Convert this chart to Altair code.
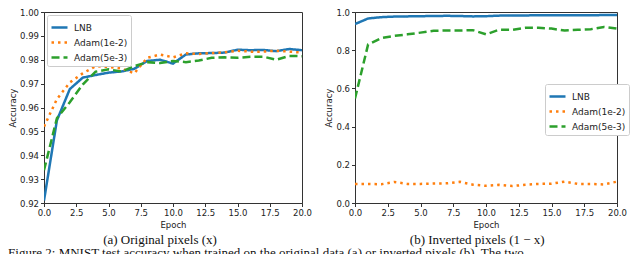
import altair as alt
import pandas as pd

epochs = list(range(21))
series = ["LNB", "Adam(1e-2)", "Adam(5e-3)"]
colors = ["#1f77b4", "#ff7f0e", "#2ca02c"]
dashes = [[1, 0], [2.5, 4], [8, 4]]

# (a) original pixels
orig_lnb = [0.921, 0.9546, 0.9677, 0.9725, 0.9736, 0.9746, 0.9751, 0.9762, 0.9795, 0.9800,
            0.9784, 0.9822, 0.9827, 0.9828, 0.9830, 0.9842, 0.9840, 0.9841, 0.9836, 0.9845, 0.9840]
orig_adam1 = [0.952, 0.9635, 0.9705, 0.9743, 0.9773, 0.9770, 0.9764, 0.9743, 0.9808, 0.9822,
              0.9810, 0.9827, 0.9824, 0.9828, 0.9831, 0.9838, 0.9834, 0.9834, 0.9838, 0.9834, 0.9830]
orig_adam5 = [0.9337, 0.9555, 0.9622, 0.9696, 0.9750, 0.9760, 0.9750, 0.9773, 0.9790, 0.9786,
              0.9795, 0.9790, 0.9797, 0.9808, 0.9810, 0.9808, 0.9813, 0.9813, 0.9800, 0.9816, 0.9815]

# (b) inverted pixels
inv_lnb = [0.937, 0.966, 0.973, 0.976, 0.977, 0.978, 0.979, 0.980, 0.979, 0.977,
           0.978, 0.981, 0.982, 0.982, 0.983, 0.983, 0.983, 0.983, 0.983, 0.984, 0.984]
inv_adam1 = [0.100, 0.100, 0.098, 0.110, 0.100, 0.100, 0.102, 0.103, 0.111, 0.096,
             0.090, 0.095, 0.089, 0.095, 0.100, 0.101, 0.112, 0.100, 0.100, 0.097, 0.112]
inv_adam5 = [0.547, 0.830, 0.863, 0.875, 0.883, 0.892, 0.902, 0.903, 0.903, 0.905,
             0.883, 0.907, 0.907, 0.917, 0.917, 0.913, 0.903, 0.907, 0.910, 0.922, 0.913]

x_ticks = [0, 2.5, 5, 7.5, 10, 12.5, 15, 17.5, 20]
y_ticks_a = [0.92, 0.93, 0.94, 0.95, 0.96, 0.97, 0.98, 0.99, 1.00]
y_ticks_b = [0.0, 0.2, 0.4, 0.6, 0.8, 1.0]

caption_a = "(a)  Original pixels (x)"
caption_b = "(b)  Inverted pixels (1 − x)"
figure_line = ("Figure 2:  MNIST test accuracy when trained on the original data (a) "
               "or inverted pixels (b).  The two")


def long_df(vals):
    rows = []
    for name, v in zip(series, vals):
        for e, a in zip(epochs, v):
            rows.append({"Epoch": e, "Accuracy": a, "series": name})
    return pd.DataFrame(rows)


def panel(df, ydom, yticks, yfmt, width, legend_kw, caption):
    legend = alt.Legend(
        title=None,
        symbolType="stroke", symbolStrokeWidth=2.5, symbolSize=256,
        labelFont="DejaVu Sans", labelFontSize=9, labelColor="#222", labelOffset=5,
        fillColor="white", strokeColor="#cccccc", padding=3, cornerRadius=2,
        rowPadding=-5, **legend_kw,
    )
    return alt.Chart(df).mark_line(strokeWidth=2.5, clip=True, strokeCap="butt").encode(
        x=alt.X("Epoch:Q", scale=alt.Scale(domain=[0, 20], nice=False),
                axis=alt.Axis(values=x_ticks, format=".1f", title="Epoch")),
        y=alt.Y("Accuracy:Q", scale=alt.Scale(domain=ydom, nice=False, zero=False),
                axis=alt.Axis(values=yticks, format=yfmt, title="Accuracy", titlePadding=2)),
        color=alt.Color("series:N", scale=alt.Scale(domain=series, range=colors), legend=legend),
        strokeDash=alt.StrokeDash("series:N", scale=alt.Scale(domain=series, range=dashes), legend=legend),
        order=alt.Order("Epoch:Q"),
    ).properties(
        width=width, height=191,
        title=alt.TitleParams(caption, orient="bottom", anchor="middle", frame="bounds",
                              font="Liberation Serif", fontSize=13, fontWeight="normal",
                              color="#111", offset=5),
    )


left = panel(long_df([orig_lnb, orig_adam1, orig_adam5]), [0.92, 1.0], y_ticks_a, ".2f", 258,
             {"orient": "top-left", "offset": 3}, caption_a)
right = panel(long_df([inv_lnb, inv_adam1, inv_adam5]), [0.0, 1.0], y_ticks_b, ".1f", 262,
              {"orient": "none", "legendX": 190, "legendY": 72}, caption_b)

chart = alt.hconcat(left, right, spacing=12).properties(
    padding={"left": 0, "top": -1, "right": 0, "bottom": -6},
    title=alt.TitleParams(figure_line, orient="bottom", anchor="start", frame="bounds",
                          font="Liberation Serif", fontSize=13, fontWeight="normal",
                          color="#111", offset=0),
).configure_view(
    stroke="#333", strokeWidth=1
).configure_axis(
    grid=False, domainColor="#333", tickColor="#333", tickSize=3.5, domainWidth=1,
    labelFont="DejaVu Sans", labelFontSize=8.5, labelColor="#222", labelFlush=False,
    titleFont="DejaVu Sans", titleFontSize=8.5, titleFontWeight="normal", titleColor="#222",
    titlePadding=3, labelPadding=2,
).configure_concat(spacing=12)

chart.save("out.html", embed_options={"renderer": "svg", "actions": False})
